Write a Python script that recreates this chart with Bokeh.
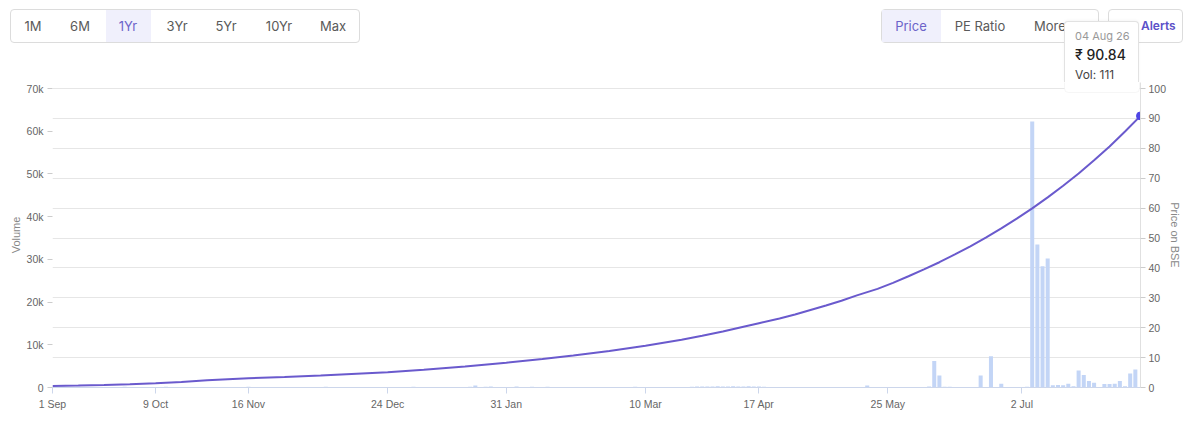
from bokeh.plotting import figure
from bokeh.models import (Range1d, LinearAxis, FixedTicker, BoxAnnotation,
                          ColumnDataSource, Div)
from bokeh.layouts import column
from bokeh.embed import file_html
from bokeh.resources import INLINE

# ---------------- data ----------------
tick_labels = ["1 Sep", "9 Oct", "16 Nov", "24 Dec", "31 Jan", "10 Mar", "17 Apr", "25 May", "2 Jul"]
tick_index = [0, 20, 38, 65, 88, 115, 137, 162, 188]

volume = [
    120, 80, 150, 60, 90, 200, 110, 70, 130, 90,
    60, 140, 100, 80, 170, 50, 90, 120, 70, 110,
    90, 60, 150, 80, 100, 130, 70, 90, 60, 140,
    80, 110, 50, 90, 120, 70, 100, 60, 150, 80,
    90, 130, 70, 60, 110, 80, 140, 90, 50, 100,
    120, 70, 90, 160, 60, 80, 110, 70, 130, 90,
    60, 100, 80, 140, 70, 90, 120, 60, 110, 80,
    150, 90, 70, 100, 60, 130, 80, 90, 120, 70,
    110, 180, 450, 90, 160, 220, 80, 120, 70, 100,
    240, 130, 80, 190, 110, 70, 150, 90, 60, 120,
    80, 140, 90, 70, 110, 60, 130, 80, 100, 90,
    70, 120, 80, 150, 60, 90, 110, 70, 130, 80,
    100, 60, 140, 90, 180, 260, 220, 240, 210, 280,
    250, 230, 300, 260, 240, 280, 220, 250, 180, 90,
    110, 70, 130, 60, 90, 120, 80, 100, 70, 140,
    90, 60, 110, 80, 130, 70, 100, 90, 450, 80,
    60, 120, 90, 70, 100, 80, 140, 60, 110, 90,
    250, 6200, 2800, 150, 200, 90, 120, 80, 60, 110,
    2800, 100, 7300, 80, 900, 70, 60, 90, 120, 150,
    62300, 33500, 28400, 30200, 500, 600, 500, 900, 300, 4000,
    2900, 1500, 1100, 100, 800, 800, 900, 1500, 300, 3300,
    4200, 111,
]
vol_index = list(range(len(volume)))

price_index = [0, 5, 10, 15, 20, 25, 30, 35, 38, 45, 52, 58, 65, 72, 80, 88, 95, 101,
               108, 115, 122, 126, 130, 134, 137, 141, 144, 147, 150, 153, 156, 160,
               163, 166, 169, 172, 175, 178, 181, 184, 187, 190, 193, 196, 199, 202,
               205, 208, 211]
price = [0.5, 0.65, 0.85, 1.1, 1.4, 1.85, 2.4, 2.85, 3.1, 3.5, 4.0, 4.5, 5.1, 5.9, 7.0,
         8.3, 9.5, 10.7, 12.2, 14.0, 16.0, 17.3, 18.7, 20.3, 21.5, 23.1, 24.4, 25.9,
         27.4, 29.0, 30.8, 33.0, 35.0, 37.2, 39.5, 41.9, 44.5, 47.2, 50.1, 53.2, 56.5,
         59.9, 63.6, 67.5, 71.6, 76.0, 80.6, 85.6, 90.84]

vol_ticks = [0, 10000, 20000, 30000, 40000, 50000, 60000, 70000]
vol_tick_labels = ["0", "10k", "20k", "30k", "40k", "50k", "60k", "70k"]
price_ticks = [0, 10, 20, 30, 40, 50, 60, 70, 80, 90, 100]

range_buttons = ["1M", "6M", "1Yr", "3Yr", "5Yr", "10Yr", "Max"]
active_range = "1Yr"
view_buttons = ["Price", "PE Ratio", "More"]
alerts_text = "Alerts"
tip_date, tip_price, tip_vol = "04 Aug 26", "₹ 90.84", "Vol: 111"

FONT = "Inter"
AXFONT = "Liberation Sans"
GRAY = "#666666"
PURPLE = "#6c63c9"

W = 1184
HEAD_H = 82          # header strip height (px)
MAIN_H = 336         # chart strip height (px)
GRID_TOP = 88 - HEAD_H   # y of the 70k / 100 gridline inside the chart strip
FRAME_BOTTOM = 31


# ---------------- header strip (HTML) ----------------
def abs_box(l, t, w, hgt, extra=""):
    return (f'<div style="position:absolute;left:{l}px;top:{t}px;width:{w}px;height:{hgt}px;'
            f'box-sizing:border-box;{extra}"></div>')


def abs_text(x, y, text, size=13, color="#5a5a5a", align="center", weight=400):
    tx = "-50%" if align == "center" else "0"
    return (f'<span style="position:absolute;left:{x}px;top:{y}px;transform:translate({tx},-50%);'
            f'white-space:nowrap;font-size:{size}px;color:{color};font-weight:{weight};'
            f'line-height:1">{text}</span>')


parts = []
parts.append(abs_box(10, 9, 350, 34, "border:1px solid #dcdcdc;border-radius:4px;background:#fff"))
parts.append(abs_box(106, 10, 45, 32, "background:#f0f0fc"))
for name, cx in zip(range_buttons, [33, 80, 128, 177, 226, 279, 333]):
    parts.append(abs_text(cx, 26, name, color=PURPLE if name == active_range else "#5a5a5a"))

parts.append(abs_box(881, 9, 218, 34, "border:1px solid #dcdcdc;border-radius:4px;background:#fff"))
parts.append(abs_box(882, 10, 59, 32, "background:#f0f0fc"))
parts.append(abs_text(911, 26, view_buttons[0], color=PURPLE))
parts.append(abs_text(980, 26, view_buttons[1]))
parts.append(abs_text(1034, 26, view_buttons[2], align="left"))

parts.append(abs_box(1108, 9, 75, 34, "border:1px solid #dcdcdc;border-radius:4px;background:#fff"))
parts.append(abs_text(1141, 26, alerts_text, size=12, color="#5b50c8", align="left", weight=600))

# tooltip, upper part
parts.append(abs_box(1064, 21, 75, HEAD_H - 21,
                     "background:#fff;border:1px solid #e2e2e2;border-bottom:none;"
                     "border-radius:4px 4px 0 0;box-shadow:0 -1px 3px rgba(0,0,0,0.04)"))
parts.append(abs_text(1075, 36, tip_date, size=11, color="#999999", align="left"))
parts.append(abs_text(1075, 55, tip_price, size=14, color="#222222", align="left", weight=500))
parts.append(abs_text(1075, 75, tip_vol, size=12, color="#444444", align="left"))

header_html = (f'<div style="position:relative;width:{W}px;height:{HEAD_H}px;'
               f'font-family:{FONT},sans-serif;background:#fff;overflow:hidden">'
               + "".join(parts) + "</div>")
header = Div(text=header_html, width=W, height=HEAD_H, margin=0)

# ---------------- chart strip ----------------
frame_px = MAIN_H - FRAME_BOTTOM
grid_px = frame_px - GRID_TOP
vol_top = vol_ticks[-1] * frame_px / grid_px
price_top = price_ticks[-1] * frame_px / grid_px

p = figure(width=W, height=MAIN_H, output_backend="svg", toolbar_location=None,
           x_range=Range1d(0, len(volume) - 1), y_range=Range1d(0, vol_top),
           min_border_left=52, min_border_right=42, min_border_top=0,
           min_border_bottom=FRAME_BOTTOM, margin=0)
p.outline_line_color = None
p.background_fill_color = "white"
p.border_fill_color = "white"
p.extra_y_ranges = {"price": Range1d(0, price_top)}

p.xgrid.visible = False
p.ygrid.ticker = FixedTicker(ticks=[t * vol_ticks[-1] / price_ticks[-1] for t in price_ticks])
p.ygrid.grid_line_color = "#e6e6e6"

xa = p.xaxis[0]
xa.ticker = FixedTicker(ticks=tick_index)
xa.major_label_overrides = {i: l for i, l in zip(tick_index, tick_labels)}
xa.axis_line_color = "#ccd6eb"
xa.major_tick_line_color = "#ccd6eb"
xa.major_tick_out = 6
xa.major_tick_in = 0
xa.minor_tick_line_color = None
xa.major_label_standoff = 4
xa.major_label_text_font = AXFONT
xa.major_label_text_font_size = "10.5px"
xa.major_label_text_color = GRAY

ya = p.yaxis[0]
ya.ticker = FixedTicker(ticks=vol_ticks)
ya.major_label_overrides = {t: l for t, l in zip(vol_ticks, vol_tick_labels)}
ya.axis_label = "Volume"
ya.axis_line_color = None
ya.major_tick_line_color = "#cccccc"
ya.major_tick_out = 5
ya.major_tick_in = 0
ya.minor_tick_line_color = None
ya.major_label_standoff = 4
ya.axis_label_standoff = 2
ya.major_label_text_font = AXFONT
ya.major_label_text_font_size = "10.5px"
ya.major_label_text_color = GRAY
ya.axis_label_text_font = AXFONT
ya.axis_label_text_font_size = "11px"
ya.axis_label_text_font_style = "normal"
ya.axis_label_text_color = "#888888"

ra = LinearAxis(y_range_name="price", axis_label="Price on BSE")
ra.ticker = FixedTicker(ticks=price_ticks)
ra.axis_line_color = "#e0e0e0"
ra.major_tick_line_color = "#cccccc"
ra.major_tick_out = 5
ra.major_tick_in = 0
ra.minor_tick_line_color = None
ra.major_label_standoff = 3
ra.axis_label_standoff = 0
ra.major_label_text_font = AXFONT
ra.major_label_text_font_size = "10.5px"
ra.major_label_text_color = GRAY
ra.axis_label_text_font = AXFONT
ra.axis_label_text_font_size = "11px"
ra.axis_label_text_font_style = "normal"
ra.axis_label_text_color = "#888888"
p.add_layout(ra, "right")

vsrc = ColumnDataSource(dict(x=vol_index, top=volume))
p.vbar(x="x", top="top", width=0.78, bottom=0, source=vsrc,
       fill_color="#c3d5f6", line_color=None)

psrc = ColumnDataSource(dict(x=price_index, y=price))
p.line(x="x", y="y", source=psrc, y_range_name="price", line_color="#6a5acd", line_width=2)
p.scatter(x=[price_index[-1]], y=[price[-1]], y_range_name="price", size=8,
          fill_color="#4f46e5", line_color="#4f46e5")

# tooltip, lower part (continues the box from the header strip)
p.add_layout(BoxAnnotation(left=1064, right=1139, top=-20, bottom=92 - HEAD_H,
                           left_units="canvas", right_units="canvas",
                           top_units="canvas", bottom_units="canvas",
                           fill_color="white", fill_alpha=1.0,
                           line_color="#e2e2e2", line_width=1,
                           border_radius=4, level="overlay"))

layout = column(header, p, spacing=0)
open("out.html", "w").write(file_html(layout, INLINE))
